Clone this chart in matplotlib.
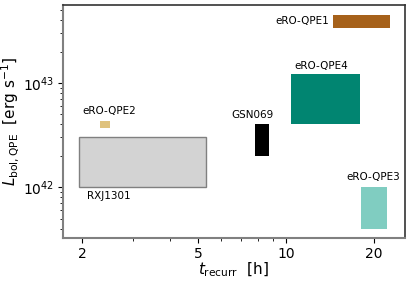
import matplotlib
matplotlib.use("Agg")
import matplotlib.pyplot as plt
from matplotlib.patches import Rectangle
from matplotlib.ticker import FixedLocator, FixedFormatter, NullFormatter

# sources: recurrence time range [h] and luminosity range [erg/s]
names = ["RXJ1301", "eRO-QPE2", "GSN069", "eRO-QPE4", "eRO-QPE1", "eRO-QPE3"]
t_lo = [1.95, 2.31, 7.84, 10.4, 14.5, 18.0]
t_hi = [5.3, 2.49, 8.73, 17.9, 22.7, 22.1]
L_lo = [1.0e42, 3.7e42, 2.0e42, 4.0e42, 3.4e43, 4.0e41]
L_hi = [3.0e42, 4.35e42, 4.05e42, 1.23e43, 4.5e43, 1.0e42]
colors = ["#d3d3d3", "#dfc27d", "black", "#018571", "#a6611a", "#80cdc1"]
edges = ["gray", "none", "none", "none", "none", "none"]

xticks = [2, 5, 10, 20]
xticklabels = ["2", "5", "10", "20"]

fig, ax = plt.subplots(figsize=(4.11, 2.82), dpi=100)
ax.set_xscale("log")
ax.set_yscale("log")
ax.set_xlim(1.72, 25.5)
ax.set_ylim(3.25e41, 5.6e43)

for i in range(len(names)):
    ax.add_patch(Rectangle((t_lo[i], L_lo[i]), t_hi[i] - t_lo[i], L_hi[i] - L_lo[i],
                           facecolor=colors[i], edgecolor=edges[i], linewidth=1))

# labels next to each box
fs = 7.5
ax.text(t_lo[0] * 1.07, L_lo[0] * 0.92, names[0], fontsize=fs, ha="left", va="top")
ax.text(2.48, L_hi[1] * 1.1, names[1], fontsize=fs, ha="center", va="bottom")
ax.text(7.7, L_hi[2] * 1.1, names[2], fontsize=fs, ha="center", va="bottom")
ax.text(13.2, L_hi[3] * 1.07, names[3], fontsize=fs, ha="center", va="bottom")
ax.text(t_lo[4] * 0.97, 3.9e43, names[4], fontsize=fs, ha="right", va="center")
ax.text(19.9, L_hi[5] * 1.12, names[5], fontsize=fs, ha="center", va="bottom")

ax.xaxis.set_major_locator(FixedLocator(xticks))
ax.xaxis.set_major_formatter(FixedFormatter(xticklabels))
ax.xaxis.set_minor_formatter(NullFormatter())
ax.tick_params(axis="both", which="major", labelsize=10, length=3.5, pad=3)
ax.tick_params(axis="both", which="minor", length=2)

for s in ["left", "bottom"]:
    ax.spines[s].set_color("gray")
    ax.spines[s].set_linewidth(1.5)
for s in ["top", "right"]:
    ax.spines[s].set_color("#333333")
    ax.spines[s].set_linewidth(1.2)

ax.set_xlabel(r"$t_{\rm recurr}$  [h]", fontsize=11, labelpad=0)
ax.set_ylabel(r"$L_{\rm bol,QPE}$  [erg s$^{-1}$]", fontsize=11, labelpad=1)

plt.subplots_adjust(left=0.153, right=0.985, top=0.982, bottom=0.156)
plt.savefig("out.png", dpi=100)
